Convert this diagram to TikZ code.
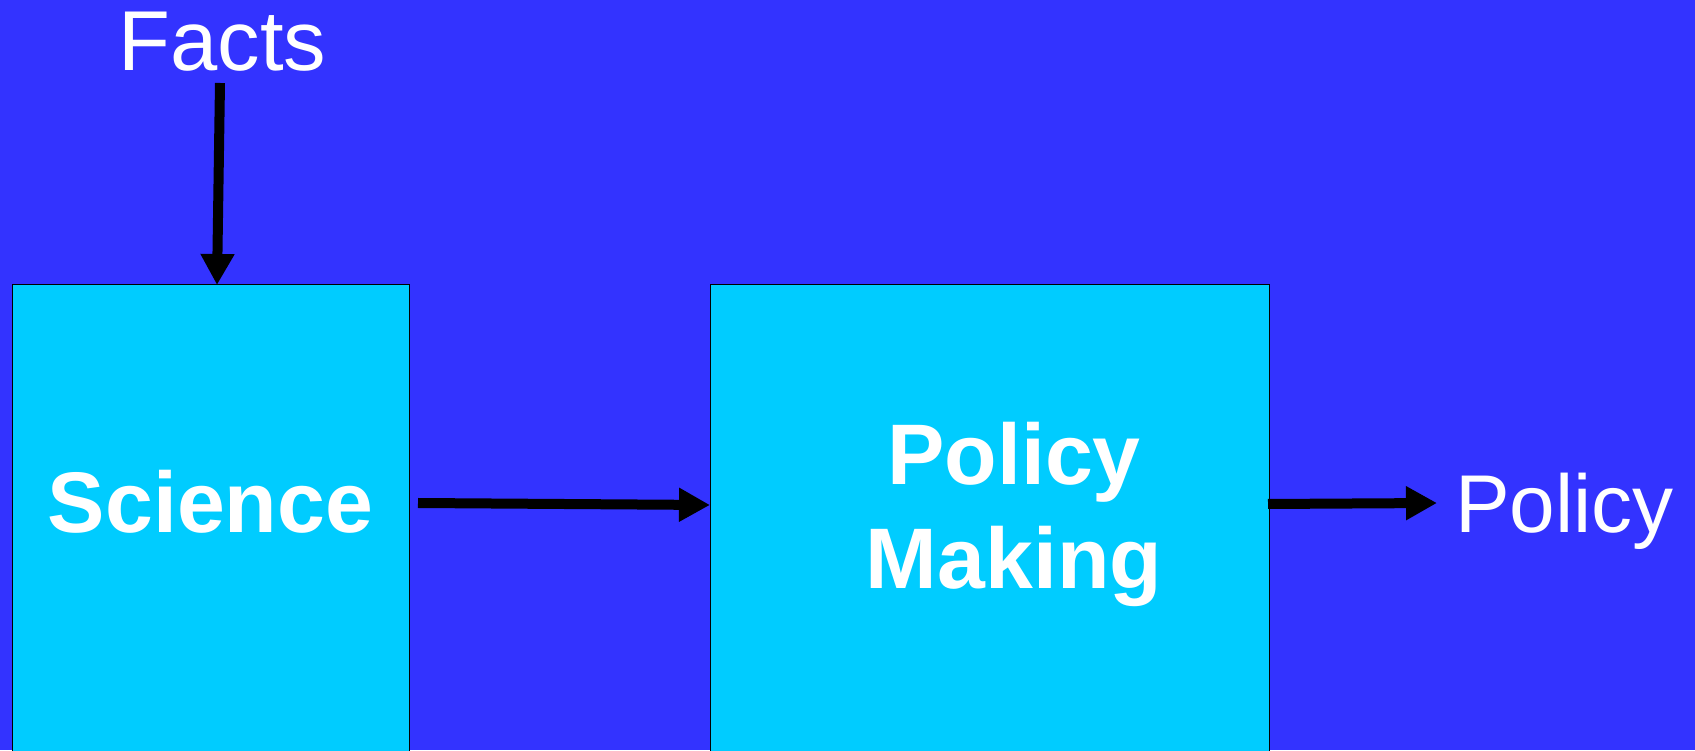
\documentclass[tikz,border=0pt]{standalone}
\usepackage{fontspec}
\setmainfont{Liberation Sans}
\usetikzlibrary{arrows.meta}
\definecolor{bgblue}{HTML}{3333FF}
\definecolor{boxcyan}{HTML}{00CCFF}
\begin{document}
\begin{tikzpicture}[x=1pt,y=1pt,
  stagebox/.style={draw=black, line width=1pt, fill=boxcyan, inner sep=0pt},
  bigtext/.style={text=white, inner sep=0pt, font=\fontsize{85}{100}\selectfont},
  boldtext/.style={text=white, inner sep=0pt, font=\bfseries\fontsize{86}{104}\selectfont},
  flow/.style={line width=10pt, -{Triangle[length=31pt,width=32pt]}}]
  % canvas
  \useasboundingbox (0,0) rectangle (1695,750);
  \fill[bgblue] (0,0) rectangle (1695,750);

  % the two stage boxes run off the bottom edge
  \node[stagebox, minimum width=397pt, minimum height=485pt] (sci) at (210.5,222.5) {};
  \node[stagebox, minimum width=559pt, minimum height=485pt] (pm) at (989.5,222.5) {};

  % labels (a two-line node sits on the baseline of its last line)
  \node[boldtext, anchor=base] (scitext) at (210.5,217) {Science};
  \node[boldtext, anchor=base, align=center] (pmtext) at (1014,161) {Policy\\Making};
  \node[bigtext, anchor=base] (facts) at (222.5,679) {Facts};
  \node[bigtext, font=\fontsize{82}{96}\selectfont, anchor=base west] (pol) at (1455,217) {Policy};

  % connectors
  \coordinate (factsfoot) at (220,667);
  \coordinate (scihit) at (217,465);
  \coordinate (sciout) at (418,247);
  \coordinate (pmin) at (710,245);
  \coordinate (pmout) at (1268,246);
  \coordinate (polin) at (1437,247);
  \draw[flow] (factsfoot) -- (scihit);
  \draw[flow] (sciout) -- (pmin);
  \draw[flow] (pmout) -- (polin);
\end{tikzpicture}
\end{document}
